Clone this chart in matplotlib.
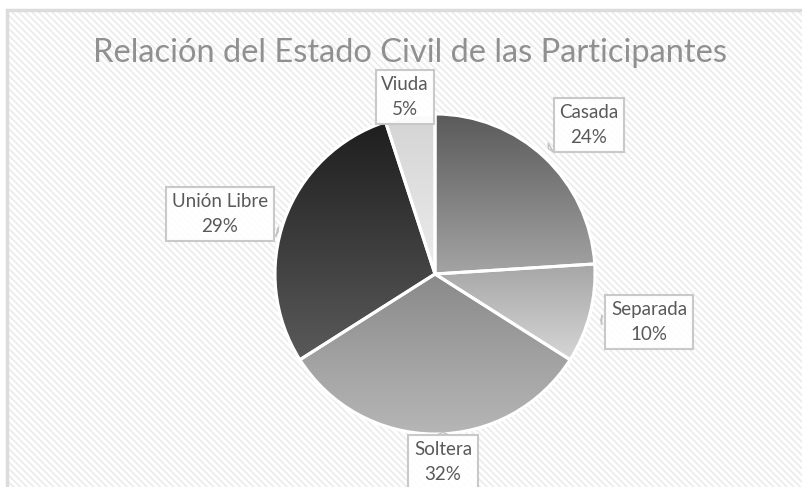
import numpy as np
import matplotlib
matplotlib.use("Agg")
import matplotlib.pyplot as plt
from matplotlib.patches import Rectangle

plt.rcParams['font.family'] = ['Lato', 'DejaVu Sans']
plt.rcParams['hatch.linewidth'] = 1.2

# data
categorias = ['Casada', 'Separada', 'Soltera', 'Unión Libre', 'Viuda']
porcentajes = [24, 10, 32, 29, 5]
# gradient colours (top, bottom) for each slice
grad_top = ['#5a5a5a', '#a6a6a6', '#8a8a8a', '#1e1e1e', '#d4d4d4']
grad_bot = ['#a4a4a4', '#d6d6d6', '#b6b6b6', '#5a5a5a', '#ececec']
# label box centres, in pixels from top-left
label_pos = [(589, 125), (649, 322), (443, 462), (220, 214), (405, 97)]
# where each callout points to (pixels)
point_to = [(546, 150), (598, 320), (443, 432), (278, 232), (405, 122)]

W, H = 802, 487
fig = plt.figure(figsize=(W / 100, H / 100), dpi=100)
ax = fig.add_axes([0, 0, 1, 1])
ax.set_xlim(0, W)
ax.set_ylim(0, H)
ax.axis('off')

# chart area with fine diagonal hatching
ax.add_patch(Rectangle((7, -5), W, H - 10 + 5, facecolor='white',
                       edgecolor='#ebebeb', hatch='\\\\\\\\\\', lw=0, zorder=0))
ax.add_patch(Rectangle((7, -5), W, H - 10 + 5, facecolor='none',
                       edgecolor='#dcdcdc', lw=2.5, zorder=1))

ax.text(410, H - 53, 'Relación del Estado Civil de las Participantes',
        ha='center', va='center', fontsize=23.5, color='#909090', zorder=5)

cx, cy, r = 435, H - 274, 160
wedges, _ = ax.pie(porcentajes, startangle=90, counterclock=False,
                   center=(cx, cy), radius=r, frame=True,
                   wedgeprops=dict(facecolor='none', edgecolor='white',
                                   linewidth=2.2, zorder=4))

for w, c0, c1 in zip(wedges, grad_top, grad_bot):
    v = w.get_path().vertices
    x0, x1 = v[:, 0].min(), v[:, 0].max()
    y0, y1 = v[:, 1].min(), v[:, 1].max()
    cmap = matplotlib.colors.LinearSegmentedColormap.from_list('g', [c0, c1])
    grad = np.linspace(0, 1, 256).reshape(-1, 1)
    im = ax.imshow(grad, cmap=cmap, extent=(x0, x1, y0, y1), origin='upper',
                   aspect='auto', interpolation='bilinear', zorder=3)
    im.set_clip_path(w)

for name, pct, (lx, ly), (px, py) in zip(categorias, porcentajes, label_pos, point_to):
    ax.annotate(f'{name}\n{pct}%', xy=(px, H - py), xytext=(lx, H - ly),
                ha='center', va='center', fontsize=13.5, color='#595959',
                linespacing=1.6, zorder=6,
                bbox=dict(boxstyle='square,pad=0.3', fc='white', ec='#c4c4c4',
                          lw=1.5, alpha=0.9),
                arrowprops=dict(arrowstyle='wedge,tail_width=0.5,shrink_factor=0.5',
                                fc='white', ec='#c4c4c4', lw=1.0))

ax.set_xlim(0, W)
ax.set_ylim(0, H)
ax.set_aspect('auto')
fig.savefig('out.png', dpi=100)
